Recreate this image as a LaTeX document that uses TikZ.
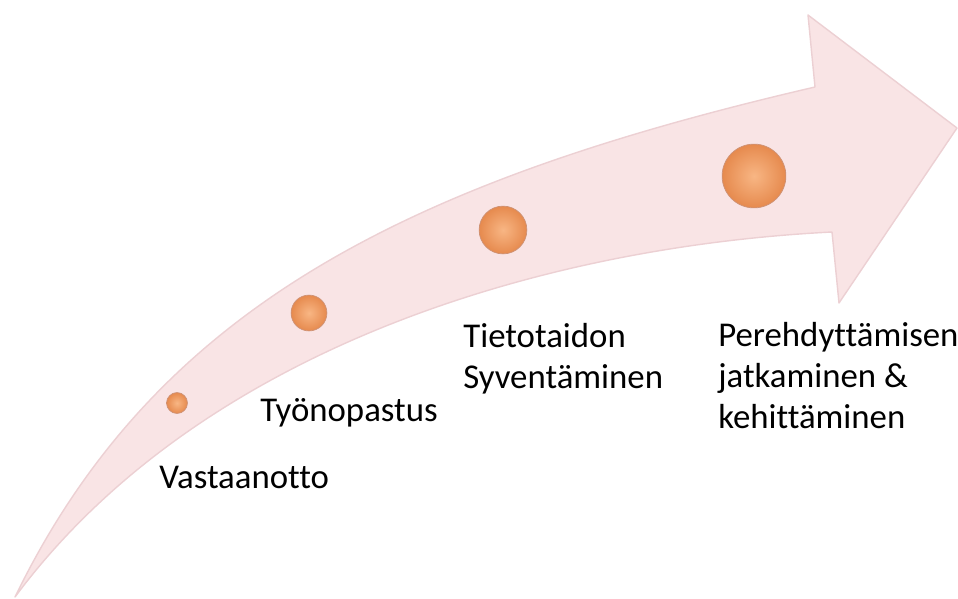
\documentclass[tikz,border=0pt]{standalone}
\usepackage{fontspec}
\setmainfont{Carlito}[Ligatures=NoCommon]
\definecolor{arrowpink}{RGB}{249,228,229}
\definecolor{arrowedge}{RGB}{236,208,211}
\definecolor{dotin}{RGB}{248,182,132}
\definecolor{dotout}{RGB}{230,138,78}
\definecolor{dotrim}{RGB}{206,146,118}
\newcommand{\steplines}[1]{\vtop{\baselineskip=23.4pt #1}}
\begin{document}
\begin{tikzpicture}[x=0.02cm,y=-0.02cm,
  stepdot/.style={circle, inner sep=0pt, shade, inner color=dotin, outer color=dotout, draw=dotrim, line width=0.4pt},
  steptext/.style={font=\fontsize{19.8}{23.4}\selectfont, anchor=base west, inner sep=0pt}]
\useasboundingbox (0,0) rectangle (958,599);
% curved arrow
\filldraw[fill=arrowpink, draw=arrowedge, line width=0.8pt, line join=round]
  (15,597) .. controls (155,309) and (405,182) .. (815,87)
  -- (808,15) -- (957,128) -- (839,303) -- (832,232)
  .. controls (535,247) and (197,352) .. (15,597) -- cycle;
% dots
\node[stepdot, minimum size=11.9pt] (c1) at (177,403) {};
\node[stepdot, minimum size=20.4pt] (c2) at (309,313) {};
\node[stepdot, minimum size=27.2pt] (c3) at (503,230) {};
\node[stepdot, minimum size=36.3pt] (c4) at (754,176) {};
% labels
\node[steptext] (t1) at (159,488) {Vastaanotto};
\node[steptext] (t2) at (260,421) {Työnopastus};
\node[steptext] (t3) at (463,347) {\steplines{\hbox{Tietotaidon}\hbox{Syventäminen}}};
\node[steptext] (t4) at (718,346) {\steplines{\hbox{Perehdyttämisen}\hbox{jatkaminen \&}\hbox{kehittäminen}}};
\end{tikzpicture}
\end{document}
